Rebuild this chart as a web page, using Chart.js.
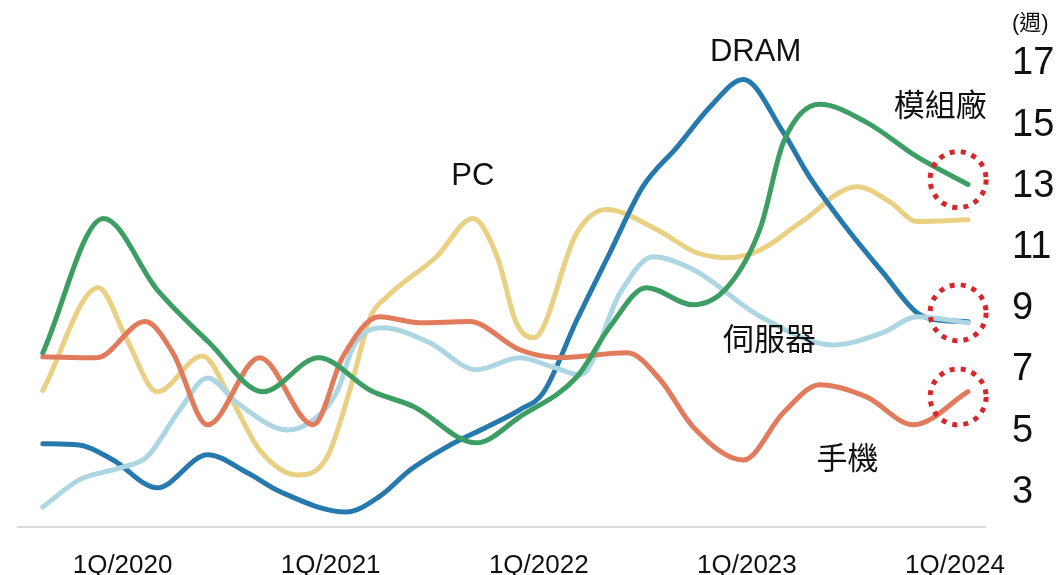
<!DOCTYPE html>
<html>
<head>
<meta charset="utf-8">
<script src="https://cdn.jsdelivr.net/npm/chart.js@4.4.1/dist/chart.umd.min.js"></script>
<style>
  html, body { margin: 0; padding: 0; background: #fff; }
  #wrap { width: 1056px; height: 575px; }
</style>
</head>
<body>
<div id="wrap"><canvas id="inventoryChart"></canvas></div>
<script>
// x = months since Jan 2020, y = inventory weeks
const tickMonths = [0, 12, 24, 36, 48];
const tickLabels = ["1Q/2020", "1Q/2021", "1Q/2022", "1Q/2023", "1Q/2024"];
const weekTicks = [3, 5, 7, 9, 11, 13, 15, 17];

const moduleMonths = [-4.6, -1.1, 2.0, 5.0, 8.1, 11.3, 14.3, 16.8, 20.4, 22.9, 26.2, 28.1, 30.2, 32.9, 34.9, 36.8, 38.1, 40.2, 42.9, 45.8, 48.75];
const moduleWeeks  = [7.56, 11.95, 9.62, 7.89, 6.29, 7.40, 6.33, 5.80, 4.62, 5.47, 6.78, 8.41, 9.69, 9.13, 9.72, 11.68, 14.43, 15.68, 15.09, 13.97, 13.06];

const pcMonths = [-4.6, -1.4, 0.25, 2.0, 4.6, 6.2, 7.9, 10.1, 11.8, 13.1, 14.3, 15.25, 18.1, 20.2, 21.6, 22.7, 23.7, 26.2, 27.9, 30.8, 33.1, 34.9, 36.8, 39.1, 42.35, 44.3, 45.8, 48.75];
const pcWeeks  = [6.33, 9.69, 7.99, 6.29, 7.46, 6.12, 4.39, 3.57, 4.16, 6.33, 8.74, 9.39, 10.70, 11.95, 10.70, 8.54, 8.05, 11.49, 12.24, 11.59, 10.83, 10.67, 10.93, 11.82, 12.99, 12.47, 11.85, 11.91];

const phoneMonths = [-4.6, -1.5, 1.3, 2.9, 4.9, 7.9, 11.0, 12.7, 14.8, 17.15, 20.0, 22.9, 25.2, 29.1, 31.0, 32.9, 35.8, 38.1, 40.2, 42.9, 45.6, 48.75];
const phoneWeeks  = [7.43, 7.40, 8.58, 7.56, 5.21, 7.40, 5.21, 7.43, 8.74, 8.54, 8.58, 7.66, 7.40, 7.56, 6.68, 5.14, 4.06, 5.60, 6.52, 6.12, 5.21, 6.29];

const serverMonths = [-4.6, -2.5, -0.15, 1.4, 3.3, 4.9, 6.6, 9.5, 11.0, 12.4, 13.3, 15.0, 17.7, 20.4, 22.9, 24.8, 26.4, 28.7, 30.6, 32.9, 36.8, 41.0, 43.85, 45.8, 48.75];
const serverWeeks  = [2.52, 3.41, 3.80, 4.16, 5.70, 6.74, 5.93, 5.04, 5.37, 6.33, 7.76, 8.38, 7.89, 7.01, 7.40, 7.10, 6.84, 9.53, 10.70, 10.28, 8.74, 7.82, 8.22, 8.74, 8.54];

const dramMonths = [-4.6, -2.5, -0.55, 2.0, 4.9, 7.2, 9.1, 12.9, 14.8, 16.6, 18.7, 21.0, 22.9, 24.25, 26.2, 28.1, 30.0, 32.0, 33.9, 35.8, 38.1, 39.6, 41.95, 43.85, 45.8, 46.9, 48.75];
const dramWeeks  = [4.59, 4.55, 4.06, 3.15, 4.23, 3.64, 3.02, 2.36, 2.86, 3.74, 4.49, 5.14, 5.70, 6.25, 8.64, 10.83, 12.99, 14.30, 15.61, 16.49, 14.76, 13.32, 11.49, 10.18, 8.87, 8.64, 8.58];

// text labels and highlight circles (data coordinates)
const notes = [
    { text: "PC", x: 20.2, y: 13.32 },
    { text: "DRAM", x: 36.5, y: 17.38 },
    { text: "模組廠", x: 47.15, y: 15.58 },
    { text: "伺服器", x: 37.3, y: 7.92 },
    { text: "手機", x: 41.8, y: 4.06 }
];
const circles = [
    { x: 48.18, y: 13.22 },
    { x: 48.18, y: 8.87 },
    { x: 48.18, y: 6.12 }
];

const FONT = 'Arial, "Liberation Sans", "Noto Sans CJK TC", sans-serif';

const toPoints = (xs, ys) => xs.map((x, i) => ({ x: x, y: ys[i] }));

const lineStyle = (color) => ({
    borderColor: color,
    backgroundColor: color,
    borderWidth: 5,
    pointRadius: 0,
    fill: false,
    cubicInterpolationMode: "monotone",
    borderCapStyle: "round",
    borderJoinStyle: "round"
});

const notesPlugin = {
    id: "notes",
    afterDatasetsDraw(chart) {
        const { ctx, scales: { x, y }, chartArea } = chart;
        ctx.save();
        ctx.fillStyle = "#111";
        ctx.font = "31px " + FONT;
        ctx.textAlign = "center";
        ctx.textBaseline = "middle";
        notes.forEach(n => {
            ctx.fillText(n.text, x.getPixelForValue(n.x), y.getPixelForValue(n.y));
        });

        // unit label above the axis
        ctx.font = "22px " + FONT;
        ctx.textAlign = "left";
        ctx.fillText("(週)", chartArea.right + 27, y.getPixelForValue(18.32));

        // red dotted rings
        ctx.strokeStyle = "#d7262b";
        ctx.lineWidth = 5;
        ctx.setLineDash([5, 6.2]);
        circles.forEach(c => {
            ctx.beginPath();
            ctx.arc(x.getPixelForValue(c.x), y.getPixelForValue(c.y), 28, 0, Math.PI * 2);
            ctx.stroke();
        });
        ctx.restore();
    }
};

new Chart(document.getElementById("inventoryChart"), {
    type: "line",
    data: {
        datasets: [
            { label: "模組廠", data: toPoints(moduleMonths, moduleWeeks), ...lineStyle("#3c9e63") },
            { label: "手機", data: toPoints(phoneMonths, phoneWeeks), ...lineStyle("#e27b5c") },
            { label: "伺服器", data: toPoints(serverMonths, serverWeeks), ...lineStyle("#acd6e2") },
            { label: "DRAM", data: toPoints(dramMonths, dramWeeks), ...lineStyle("#2679ad") },
            { label: "PC", data: toPoints(pcMonths, pcWeeks), ...lineStyle("#e9d083") }
        ]
    },
    options: {
        responsive: true,
        maintainAspectRatio: false,
        animation: false,
        layout: { padding: { left: 18, top: 18, right: 0, bottom: 0 } },
        plugins: {
            legend: { display: false },
            tooltip: { enabled: false }
        },
        scales: {
            x: {
                type: "linear",
                min: -6.03,
                max: 49.73,
                grid: { display: false, drawTicks: false },
                border: { display: true, color: "#dadada", width: 2 },
                afterBuildTicks: (scale) => { scale.ticks = tickMonths.map(v => ({ value: v })); },
                afterFit: (scale) => {
                    scale.height = 48;
                    scale.paddingLeft = 0;
                    scale.paddingRight = 0;
                },
                ticks: {
                    padding: 23,
                    maxRotation: 0,
                    color: "#111",
                    font: { family: FONT, size: 26 },
                    callback: (value) => tickLabels[tickMonths.indexOf(value)]
                }
            },
            y: {
                position: "right",
                min: 1.87,
                max: 18.5,
                grid: { display: false, drawTicks: false },
                border: { display: false },
                afterBuildTicks: (scale) => { scale.ticks = weekTicks.map(v => ({ value: v })); },
                afterFit: (scale) => {
                    scale.width = 71;
                    scale.paddingTop = 0;
                    scale.paddingBottom = 0;
                },
                ticks: {
                    padding: 27,
                    color: "#111",
                    font: { family: FONT, size: 38 }
                }
            }
        }
    },
    plugins: [notesPlugin]
});
</script>
</body>
</html>
